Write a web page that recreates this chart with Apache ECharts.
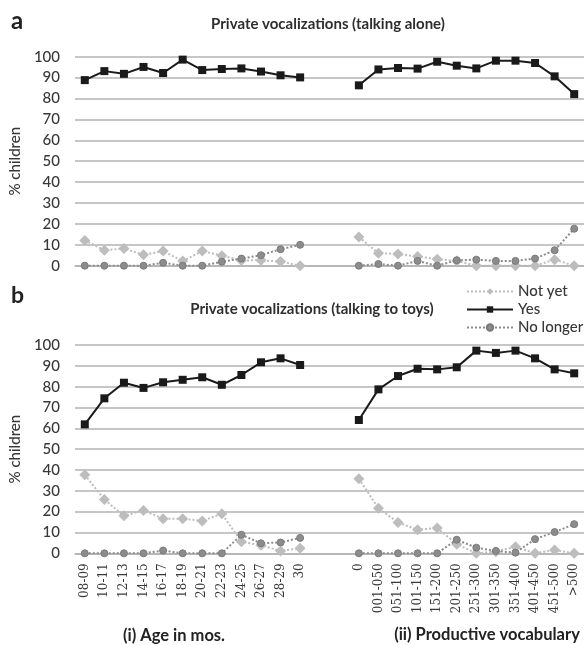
<!DOCTYPE html>
<html>
<head>
<meta charset="utf-8">
<script src="https://cdn.jsdelivr.net/npm/echarts@6/dist/echarts.min.js"></script>
<style>
html,body{margin:0;padding:0;background:#fff;}
#chart{width:584px;height:645px;}
</style>
</head>
<body>
<div id="chart"></div>
<script>
// Categories
const ageCats = ['08-09','10-11','12-13','14-15','16-17','18-19','20-21','22-23','24-25','26-27','28-29','30'];
const gapCats = [' ', '  '];
const vocabCats = ['0','001-050','051-100','101-150','151-200','201-250','251-300','301-350','351-400','401-450','451-500','>500'];
const yTicks = [0,10,20,30,40,50,60,70,80,90,100];

// Panel a: talking alone
const aloneNotYetAge   = [12.1, 7.4, 8.2, 5.2, 7.0, 2.2, 7.0, 4.8, 2.5, 2.6, 2.0, 0];
const aloneYesAge      = [88.8, 93.1, 91.8, 95.1, 92.2, 98.6, 93.6, 94.1, 94.4, 92.9, 91.1, 90.1];
const aloneNoLongerAge = [0, 0, 0, 0, 1.4, 0, 0, 1.9, 3.4, 5.0, 7.9, 10.0];
const aloneNotYetVoc   = [13.7, 6.0, 5.6, 4.4, 3.1, 2.3, 0, 0, 0, 0, 2.9, 0];
const aloneYesVoc      = [86.3, 93.9, 94.6, 94.3, 97.6, 95.7, 94.4, 98.1, 98.1, 97.0, 90.6, 82.1];
const aloneNoLongerVoc = [0, 0.8, 0, 2.3, 0, 2.6, 2.9, 2.3, 2.3, 3.4, 7.4, 17.7];

// Panel b: talking to toys
const toysNotYetAge   = [37.7, 25.8, 18.0, 20.6, 16.6, 16.6, 15.5, 19.0, 5.5, 3.9, 1.1, 2.4];
const toysYesAge      = [61.9, 74.4, 81.9, 79.4, 82.1, 83.3, 84.5, 80.9, 85.6, 91.7, 93.6, 90.4];
const toysNoLongerAge = [0, 0, 0, 0, 1.3, 0, 0, 0, 8.9, 4.8, 5.2, 7.4];
const toysNotYetVoc   = [35.8, 21.6, 14.8, 11.3, 12.1, 4.4, 0, 0.8, 3.2, 0, 1.6, 0];
const toysYesVoc      = [64.0, 78.7, 85.1, 88.6, 88.3, 89.3, 97.3, 96.2, 97.3, 93.6, 88.3, 86.4];
const toysNoLongerVoc = [0, 0, 0, 0, 0, 6.5, 2.7, 1.1, 0.3, 6.8, 10.2, 14.0];

const categories = ageCats.concat(gapCats, vocabCats);
const join = (a, b) => a.concat(gapCats.map(() => null), b);

const TXT = '#383838';
const GRID = '#b3b3b3';
const FONT = 'Lato';

function yAx(idx) {
  return {
    type: 'value', gridIndex: idx, min: yTicks[0], max: yTicks[yTicks.length - 1], interval: yTicks[1] - yTicks[0],
    name: '% children', nameLocation: 'middle', nameGap: 48, nameRotate: 90,
    nameTextStyle: { color: TXT, fontSize: 15, fontFamily: FONT, fontWeight: 500 },
    axisLine: { show: false }, axisTick: { show: false },
    axisLabel: { color: TXT, fontSize: 15, fontFamily: FONT, fontWeight: 500, margin: 15 },
    splitLine: { lineStyle: { color: GRID, width: 1.5 } }
  };
}
function xAx(idx, showLabels) {
  return {
    type: 'category', gridIndex: idx, data: categories, boundaryGap: true,
    axisLine: { show: true, lineStyle: { color: GRID, width: 1.5 } },
    axisTick: { show: false },
    axisLabel: { show: showLabels, rotate: 90, interval: 0, margin: 10, color: TXT, fontSize: 12, fontFamily: 'DejaVu Serif' }
  };
}
function mk(name, data, idx) {
  const base = { name, type: 'line', xAxisIndex: idx, yAxisIndex: idx, data, connectNulls: false, animation: false };
  if (name === 'Not yet') {
    return Object.assign(base, { symbol: 'diamond', symbolSize: 11, z: 2,
      itemStyle: { color: '#bdbdbd' }, lineStyle: { color: '#bdbdbd', width: 2, type: [2, 2] } });
  }
  if (name === 'Yes') {
    return Object.assign(base, { symbol: 'rect', symbolSize: 8, z: 4,
      itemStyle: { color: '#1a1a1a' }, lineStyle: { color: '#1a1a1a', width: 2 } });
  }
  return Object.assign(base, { symbol: 'circle', symbolSize: 7, z: 3,
    itemStyle: { color: '#8c8c8c', borderColor: '#7a7a7a', borderWidth: 1 }, lineStyle: { color: '#8c8c8c', width: 2, type: [2, 2] } });
}

const chart = echarts.init(document.getElementById('chart'), null, { renderer: 'canvas' });
chart.setOption({
  animation: false,
  backgroundColor: '#fff',
  grid: [
    { left: 69, right: 0, top: 56.7, height: 209 },
    { left: 69, right: 0, top: 345, height: 208.3 }
  ],
  xAxis: [xAx(0, false), xAx(1, true)],
  yAxis: [yAx(0), yAx(1)],
  legend: {
    orient: 'vertical', left: 461, top: 279, itemWidth: 46, itemHeight: 8, itemGap: 3,
    textStyle: { color: TXT, fontSize: 15, fontFamily: FONT, fontWeight: 500, lineHeight: 15 },
    data: ['Not yet', 'Yes', 'No longer']
  },
  graphic: [
    { type: 'text', left: 11, top: 9, style: { text: 'a', fontSize: 24, fontWeight: 'bold', fontFamily: FONT, fill: '#222' } },
    { type: 'text', left: 11, top: 284, style: { text: 'b', fontSize: 23, fontWeight: 'bold', fontFamily: FONT, fill: '#222' } },
    { type: 'text', x: 328, y: 24, style: { text: 'Private vocalizations (talking alone)', fontSize: 15, fontWeight: 'bold', fontFamily: FONT, fill: '#2e2e2e', align: 'center', verticalAlign: 'middle' } },
    { type: 'text', x: 312, y: 309, style: { text: 'Private vocalizations (talking to toys)', fontSize: 15, fontWeight: 'bold', fontFamily: FONT, fill: '#2e2e2e', align: 'center', verticalAlign: 'middle' } },
    { type: 'text', x: 174, y: 636, style: { text: '(i) Age in mos.', fontSize: 16.5, fontWeight: 'bold', fontFamily: FONT, fill: '#222', align: 'center', verticalAlign: 'middle' } },
    { type: 'text', x: 487, y: 635, style: { text: '(ii) Productive vocabulary', fontSize: 16.5, fontWeight: 'bold', fontFamily: FONT, fill: '#222', align: 'center', verticalAlign: 'middle' } }
  ],
  series: [
    mk('Not yet', join(aloneNotYetAge, aloneNotYetVoc), 0),
    mk('Yes', join(aloneYesAge, aloneYesVoc), 0),
    mk('No longer', join(aloneNoLongerAge, aloneNoLongerVoc), 0),
    mk('Not yet', join(toysNotYetAge, toysNotYetVoc), 1),
    mk('Yes', join(toysYesAge, toysYesVoc), 1),
    mk('No longer', join(toysNoLongerAge, toysNoLongerVoc), 1)
  ]
});
</script>
</body>
</html>
